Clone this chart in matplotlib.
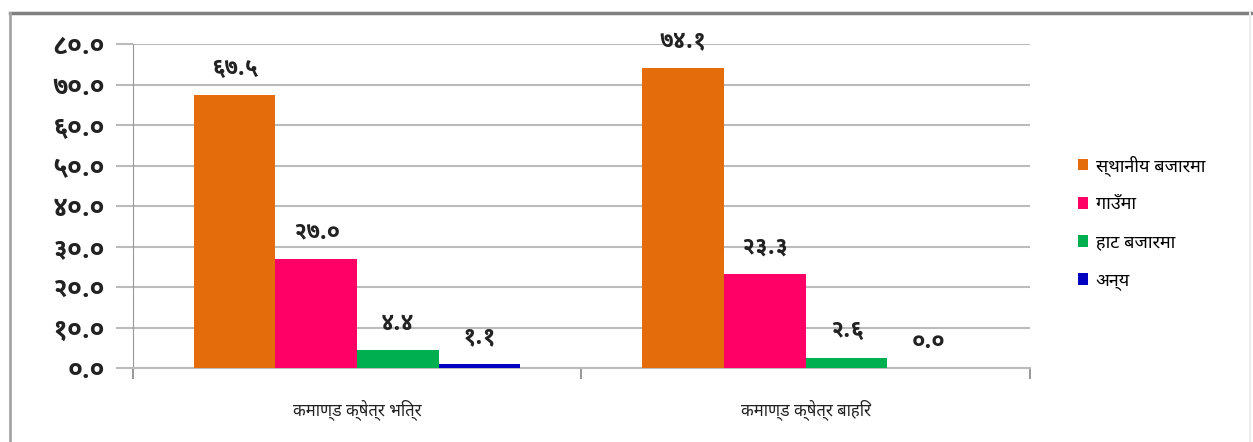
import numpy as np
import matplotlib
matplotlib.use("Agg")
import matplotlib.pyplot as plt
from matplotlib import font_manager
from matplotlib.ft2font import FT2Font
from matplotlib.lines import Line2D

categories = ["कमाण्ड क्षेत्र भित्र", "कमाण्ड क्षेत्र बाहिर"]
series_names = ["स्थानीय बजारमा", "गाउँमा", "हाट बजारमा", "अन्य"]
local_market = [67.5, 74.1]
village = [27.0, 23.3]
haat_market = [4.4, 2.6]
other = [1.1, 0.0]
y_ticks = [0, 10, 20, 30, 40, 50, 60, 70, 80]

colors = ["#E46C0A", "#FF0066", "#00B050", "#0000C0"]

DEV_DIGITS = str.maketrans("0123456789", "०१२३४५६७८९")


def to_nepali(v):
    return "{:.1f}".format(v).translate(DEV_DIGITS)


def find_devanagari_font():
    # pick any installed font that actually carries Devanagari glyphs
    preferred = []
    others = []
    for path in font_manager.findSystemFonts():
        try:
            cmap = FT2Font(path).get_charmap()
        except Exception:
            continue
        if 0x0915 in cmap and 0x0967 in cmap:
            name = font_manager.FontProperties(fname=path).get_name()
            if "Devanagari" in name or "Mangal" in name:
                preferred.append(name)
            else:
                others.append(name)
    found = preferred + others
    return found[0] if found else None


dev_font = find_devanagari_font()
families = [dev_font, "DejaVu Sans"] if dev_font else ["DejaVu Sans"]
plt.rcParams["font.family"] = families

fig = plt.figure(figsize=(12.53, 4.42), dpi=100)
ax = fig.add_axes([0.106, 0.167, 0.716, 0.733])

x = np.arange(len(categories))
width = 0.182
data = [local_market, village, haat_market, other]
for i, (name, vals) in enumerate(zip(series_names, data)):
    pos = x + (i - 1.5) * width
    ax.bar(pos, vals, width, color=colors[i], label=name, zorder=3)
    for px, v in zip(pos, vals):
        ax.annotate(to_nepali(v), (px, v), xytext=(0, 11), textcoords="offset points",
                    ha="center", va="bottom", fontsize=17, fontweight="bold",
                    color="#222222")

ax.set_xlim(-0.5, 1.5)
ax.set_ylim(0, 80)
ax.set_yticks(y_ticks)
ax.set_yticklabels([to_nepali(t) for t in y_ticks], fontsize=19, fontweight="bold",
                   color="#222222")
ax.yaxis.grid(True, color="#BBBBBB", linewidth=1.5, zorder=0)
ax.tick_params(axis="y", length=12, color="#BBBBBB", width=1.5, pad=8)

ax.set_xticks([-0.5, 0.5, 1.5])
ax.set_xticklabels([])
ax.tick_params(axis="x", length=8, color="#888888", width=1.2)
ax.set_xticks(x, minor=True)
ax.set_xticklabels(categories, minor=True, fontsize=12, color="#222222")
ax.tick_params(axis="x", which="minor", length=0, pad=22)

for side in ["top", "right"]:
    ax.spines[side].set_visible(False)
ax.spines["left"].set_color("#999999")
ax.spines["bottom"].set_color("#BBBBBB")
ax.spines["bottom"].set_linewidth(1.5)

ax.legend(loc="center left", bbox_to_anchor=(1.035, 0.45), frameon=False,
          fontsize=13, handlelength=0.6, handleheight=0.6, handletextpad=0.4,
          labelspacing=1.1)

# frame around the chart area
fig.add_artist(Line2D([0.008, 1.0], [0.971, 0.971], transform=fig.transFigure,
                      color="#7F7F7F", linewidth=2.5))
fig.add_artist(Line2D([0.008, 0.008], [0.0, 0.971], transform=fig.transFigure,
                      color="#A6A6A6", linewidth=2))
fig.add_artist(Line2D([0.998, 0.998], [0.0, 0.971], transform=fig.transFigure,
                      color="#EEEEEE", linewidth=1.5))

fig.savefig("out.png", dpi=100)
